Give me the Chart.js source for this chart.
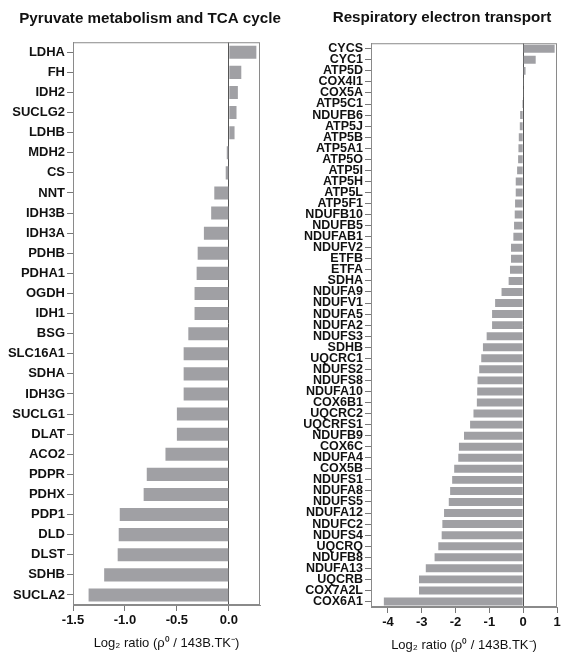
<!DOCTYPE html>
<html>
<head>
<meta charset="utf-8">
<script src="https://cdn.jsdelivr.net/npm/chart.js@4.4.0/dist/chart.umd.min.js"></script>
<style>
  body { margin: 0; background: #fff; overflow: hidden; }
  #wrap { position: relative; width: 561px; height: 659px; overflow: hidden; }
  #left-box { position: absolute; left: 0; top: 0; width: 300px; height: 659px; }
  #right-box { position: absolute; left: 280px; top: 0; width: 324px; height: 659px; }
</style>
</head>
<body>
<div id="wrap">
  <div id="left-box"><canvas id="pyr-chart"></canvas></div>
  <div id="right-box"><canvas id="ret-chart"></canvas></div>
</div>
<script>
// Pyruvate metabolism and TCA cycle
var pyrLabels = ["LDHA", "FH", "IDH2", "SUCLG2", "LDHB", "MDH2", "CS", "NNT", "IDH3B", "IDH3A",
  "PDHB", "PDHA1", "OGDH", "IDH1", "BSG", "SLC16A1", "SDHA", "IDH3G", "SUCLG1", "DLAT",
  "ACO2", "PDPR", "PDHX", "PDP1", "DLD", "DLST", "SDHB", "SUCLA2"];
var pyrValues = [0.265, 0.12, 0.087, 0.074, 0.055, -0.02, -0.03, -0.14, -0.17, -0.24,
  -0.30, -0.31, -0.33, -0.33, -0.39, -0.435, -0.435, -0.435, -0.50, -0.50,
  -0.61, -0.79, -0.82, -1.05, -1.06, -1.07, -1.20, -1.35];

// Respiratory electron transport
var retLabels = ["CYCS", "CYC1", "ATP5D", "COX4I1", "COX5A", "ATP5C1", "NDUFB6", "ATP5J", "ATP5B", "ATP5A1",
  "ATP5O", "ATP5I", "ATP5H", "ATP5L", "ATP5F1", "NDUFB10", "NDUFB5", "NDUFAB1", "NDUFV2", "ETFB",
  "ETFA", "SDHA", "NDUFA9", "NDUFV1", "NDUFA5", "NDUFA2", "NDUFS3", "SDHB", "UQCRC1", "NDUFS2",
  "NDUFS8", "NDUFA10", "COX6B1", "UQCRC2", "UQCRFS1", "NDUFB9", "COX6C", "NDUFA4", "COX5B", "NDUFS1",
  "NDUFA8", "NDUFS5", "NDUFA12", "NDUFC2", "NDUFS4", "UQCRQ", "NDUFB8", "NDUFA13", "UQCRB", "COX7A2L",
  "COX6A1"];
var retValues = [0.93, 0.37, 0.07, 0.02, 0.01, -0.03, -0.09, -0.10, -0.13, -0.14,
  -0.15, -0.18, -0.22, -0.22, -0.24, -0.25, -0.27, -0.29, -0.36, -0.36,
  -0.39, -0.43, -0.64, -0.83, -0.92, -0.92, -1.08, -1.19, -1.24, -1.30,
  -1.35, -1.36, -1.37, -1.47, -1.57, -1.75, -1.90, -1.92, -2.04, -2.10,
  -2.16, -2.20, -2.34, -2.39, -2.41, -2.51, -2.62, -2.88, -3.08, -3.08,
  -4.12];

var axisTitle = "Log\u2082 ratio (\u03c1\u2070 / 143B.TK\u207b)";
var barColor = "#a0a0a4";
var fontFam = "'Liberation Sans', Arial, sans-serif";

// box around the plot area
var boxPlugin = {
  id: "box",
  afterDatasetsDraw: function(chart) {
    var a = chart.chartArea;
    var ctx = chart.ctx;
    ctx.save();
    ctx.strokeStyle = "#8a8a8a";
    ctx.lineWidth = 1;
    ctx.strokeRect(a.left + 0.5, a.top + 0.5, a.width - 1, a.height - 1);
    ctx.restore();
  }
};

function drawchart(id, opts) {
  new Chart(document.getElementById(id), {
    type: "bar",
    data: {
      labels: opts.labels,
      datasets: [{
        data: opts.values,
        backgroundColor: barColor,
        borderWidth: 0,
        barPercentage: opts.barPct,
        categoryPercentage: 1
      }]
    },
    plugins: [boxPlugin],
    options: {
      indexAxis: "y",
      responsive: true,
      maintainAspectRatio: false,
      animation: false,
      layout: { padding: { left: 0, right: 0, top: 0, bottom: opts.padBottom } },
      plugins: {
        legend: { display: false },
        tooltip: { enabled: false },
        title: {
          display: true,
          text: opts.title,
          align: "center",
          color: "#111",
          font: { family: fontFam, size: 15.2, weight: "bold" },
          padding: { top: opts.titleTop, bottom: opts.titleBottom }
        }
      },
      scales: {
        x: {
          min: opts.min,
          max: opts.max,
          grid: {
            drawOnChartArea: true,
            color: function(c) { return c.tick && c.tick.value === 0 ? "#555" : "rgba(0,0,0,0)"; },
            tickColor: "#777",
            tickLength: 6
          },
          border: { display: true, color: "#8a8a8a" },
          ticks: {
            stepSize: opts.step,
            includeBounds: false,
            padding: 2,
            color: "#111",
            font: { family: fontFam, size: 13, weight: "bold" },
            callback: opts.fmt
          },
          title: {
            display: true,
            text: axisTitle,
            color: "#111",
            font: { family: fontFam, size: 13 },
            padding: { top: 4, bottom: 4 }
          },
          afterFit: function(scale) { scale.height = 50; }
        },
        y: {
          grid: {
            offset: false,
            drawOnChartArea: false,
            color: "#777",
            tickLength: 6
          },
          border: { display: true, color: "#8a8a8a" },
          ticks: {
            autoSkip: false,
            padding: 2,
            color: "#111",
            font: { family: fontFam, size: opts.labelSize, weight: "bold" }
          },
          afterFit: function(scale) { scale.width = opts.yWidth; }
        },
        // empty spacer on the right so the title centres where it should
        spacer: {
          type: "linear",
          position: "right",
          display: true,
          grid: { display: false },
          border: { display: false },
          ticks: { display: false },
          afterFit: function(scale) { scale.width = opts.spacer; }
        }
      }
    }
  });
}

drawchart("pyr-chart", {
  labels: pyrLabels,
  values: pyrValues,
  title: "Pyruvate metabolism and TCA cycle",
  titleTop: 10,
  titleBottom: 14,
  min: -1.5,
  max: 0.3,
  step: 0.5,
  fmt: function(v) { return Number(v).toFixed(1); },
  barPct: 0.65,
  labelSize: 13,
  yWidth: 73,
  spacer: 40,
  padBottom: 4
});

drawchart("ret-chart", {
  labels: retLabels,
  values: retValues,
  title: "Respiratory electron transport",
  titleTop: 9,
  titleBottom: 16,
  min: -4.5,
  max: 1.0,
  step: 1,
  fmt: function(v) { return v; },
  barPct: 0.72,
  labelSize: 12.5,
  yWidth: 91,
  spacer: 47,
  padBottom: 2
});
</script>
</body>
</html>
